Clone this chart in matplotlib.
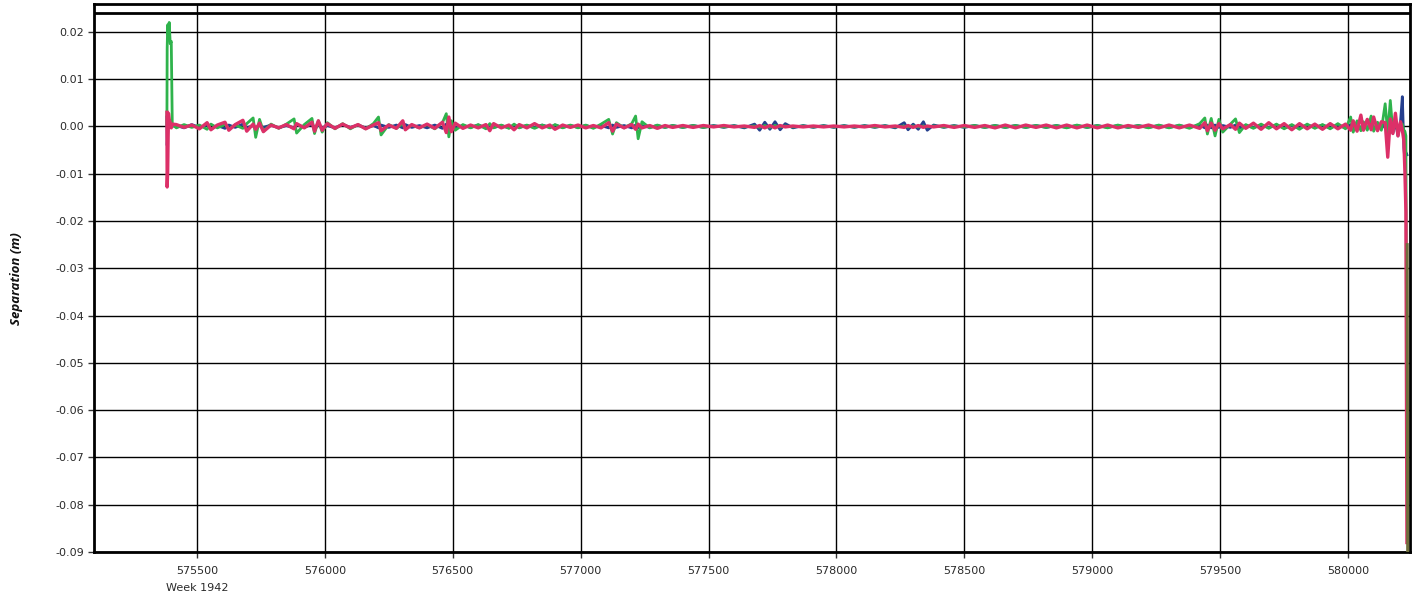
import matplotlib
matplotlib.use("Agg")
import matplotlib.pyplot as plt
import numpy as np

# ---- data (separation in millimetres) ----
t = [575383, 575384, 575386, 575389, 575392, 575396, 575400, 575404,
     575420, 575450, 575480, 575510, 575540, 575555, 575580, 575610, 575625, 575650,
     575680, 575695, 575720, 575730, 575745, 575760, 575790, 575820, 575850, 575880,
     575890, 575920, 575950, 575960, 575975, 575990, 576010, 576040, 576070, 576100,
     576130, 576160, 576190, 576210, 576220, 576250, 576280, 576305, 576315, 576340,
     576370, 576400, 576430, 576460, 576475, 576485, 576495, 576510, 576540, 576570,
     576600, 576630, 576645, 576660, 576690, 576720, 576740, 576760, 576790, 576820,
     576850, 576880, 576900, 576930, 576960, 576990, 577020, 577050, 577080, 577110,
     577125, 577140, 577170, 577200, 577215, 577225, 577240, 577270, 577300, 577330,
     577360, 577400, 577440, 577480, 577520, 577560, 577600, 577640, 577680, 577700,
     577720, 577740, 577760, 577780, 577800, 577830, 577870, 577910, 577950, 577990,
     578030, 578070, 578110, 578150, 578190, 578230, 578265, 578280, 578300, 578320,
     578340, 578355, 578380, 578420, 578460, 578500, 578540, 578580, 578620, 578660,
     578700, 578740, 578780, 578820, 578860, 578900, 578940, 578980, 579020, 579060,
     579100, 579140, 579180, 579220, 579260, 579300, 579340, 579380, 579420, 579440,
     579450, 579465, 579480, 579495, 579510, 579540, 579560, 579575, 579600, 579630,
     579660, 579690, 579720, 579750, 579780, 579810, 579840, 579870, 579900, 579930,
     579960, 579990, 580010, 580020, 580035, 580050, 580060, 580075, 580090, 580100,
     580115, 580130, 580145, 580155, 580165, 580175, 580185, 580195, 580205, 580212,
     580218, 580222, 580226, 580230]

blue_mm = [2.0, -4.0, -1.5, 1.0, 0.3, -0.2, 0.4, 0.1,
           0.2, -0.3, 0.4, -0.2, 0.3, -0.5, 0.2, -0.4, 0.3, -0.2,
           0.5, -0.3, 0.2, -0.4, 0.3, -0.2, 0.3, -0.3, 0.2, -0.3,
           0.4, -0.2, 0.5, -0.4, 0.3, -0.3, 0.2, -0.3, 0.4, -0.2,
           0.3, -0.3, 0.2, -0.3, 0.3, -0.2, 0.3, -0.3, 0.4, -0.2,
           0.2, -0.3, 0.3, -0.4, 0.5, -0.6, 0.4, -0.3, 0.2, -0.2,
           0.3, -0.3, 0.3, -0.2, 0.2, -0.3, 0.3, -0.2, 0.2, -0.2,
           0.3, -0.2, 0.3, -0.2, 0.2, -0.2, 0.2, -0.2, 0.2, -0.3,
           0.3, -0.2, 0.2, -0.3, 0.3, -0.3, 0.2, -0.2, 0.2, -0.2,
           0.2, -0.2, 0.2, -0.2, 0.2, -0.2, 0.2, -0.3, 0.5, -0.8,
           0.9, -0.6, 1.0, -0.7, 0.6, -0.3, 0.2, -0.2, 0.2, -0.2,
           0.2, -0.2, 0.2, -0.2, 0.2, -0.3, 0.8, -0.7, 0.5, -0.6,
           1.0, -0.8, 0.3, -0.2, 0.2, -0.2, 0.2, -0.2, 0.2, -0.2,
           0.2, -0.2, 0.2, -0.2, 0.2, -0.2, 0.2, -0.2, 0.2, -0.2,
           0.2, -0.2, 0.2, -0.2, 0.2, -0.2, 0.2, -0.2, 0.3, -0.3,
           0.3, -0.3, 0.3, -0.2, 0.2, -0.2, 0.3, -0.3, 0.2, -0.2,
           0.2, -0.2, 0.3, -0.3, 0.2, -0.3, 0.3, -0.2, 0.3, -0.3,
           0.3, -0.3, 0.4, -0.5, 0.5, -0.4, 0.5, -0.5, 0.6, -0.6,
           0.5, -0.5, 0.7, -1.2, 0.8, -1.4, 1.0, -2.0, 1.0, 6.3,
           -4.5, -7.0, -5.5, -6.0]

green_mm = [0.5, 16.5, 21.5, 19.0, 22.0, 17.5, 18.0, 0.4,
            -0.3, 0.4, -0.2, 0.3, -0.6, 0.5, -0.3, 0.4, -0.5, 0.3,
            -0.4, 0.6, 1.8, -2.3, 1.5, -1.0, 0.5, -0.4, 0.5, 1.6,
            -1.4, 0.4, 1.7, -1.5, 1.2, -1.2, 0.8, -0.5, 0.6, -0.5,
            0.4, -0.5, 0.6, 2.0, -1.8, 0.4, -0.4, 0.6, -0.6, 0.3,
            -0.3, 0.4, -0.5, 0.8, 2.7, -2.2, 1.2, -0.8, 0.4, -0.3,
            0.4, -0.5, 0.6, -0.3, 0.3, -0.4, 0.5, -0.3, 0.3, -0.4,
            0.3, -0.3, 0.4, -0.3, 0.3, -0.3, 0.3, -0.4, 0.5, 1.5,
            -1.6, 0.8, -0.3, 0.6, 2.2, -2.6, 1.0, -0.3, 0.3, -0.2,
            0.2, -0.2, 0.2, -0.2, 0.1, -0.1, 0.1, -0.1, 0.1, -0.2,
            0.2, -0.2, 0.2, -0.1, 0.1, -0.1, 0.1, -0.1, 0.1, -0.1,
            0.1, -0.1, 0.1, -0.1, 0.1, -0.1, 0.1, -0.1, 0.1, -0.1,
            0.1, -0.1, 0.1, -0.1, 0.1, -0.1, 0.2, -0.2, 0.2, -0.2,
            0.2, -0.2, 0.2, -0.2, 0.2, -0.3, 0.3, -0.2, 0.2, -0.3,
            0.3, -0.2, 0.2, -0.3, 0.3, -0.3, 0.3, -0.4, 0.6, 1.8,
            -1.6, 1.7, -2.0, 1.5, -1.2, 0.5, 1.6, -1.3, 0.4, -0.4,
            0.5, -0.4, 0.5, -0.5, 0.4, -0.6, 0.5, -0.4, 0.4, -0.5,
            0.6, -0.5, 2.0, -1.2, 1.2, -0.9, 1.0, -0.8, 2.2, -1.0,
            0.9, -0.8, 4.8, -1.5, 5.5, -1.2, 1.0, -0.9, 0.6, 0.5,
            -0.8, -1.0, -2.0, -70.0]

pink_mm = [3.0, -12.8, -9.5, 2.8, 1.5, 0.8, -0.3, 0.5,
           0.4, -0.2, 0.3, -0.5, 0.8, -0.7, 0.3, 0.9, -0.8, 0.4,
           1.3, -1.0, 0.5, -0.6, 0.7, -1.1, 0.3, -0.3, 0.4, -0.5,
           0.6, -0.3, 0.9, -1.0, 1.2, -0.8, 0.6, -0.4, 0.5, -0.3,
           0.4, -0.5, 0.3, 0.8, -0.9, 0.3, -0.4, 1.2, -0.7, 0.4,
           -0.3, 0.5, -0.4, 0.9, -1.3, 2.0, -1.1, 0.7, -0.4, 0.3,
           -0.3, 0.4, -0.9, 0.6, -0.3, 0.3, -0.7, 0.4, -0.3, 0.6,
           -0.3, 0.3, -0.6, 0.3, -0.2, 0.3, -0.3, 0.2, -0.3, 0.8,
           -1.0, 0.5, -0.3, 0.4, -0.6, 0.5, -0.3, 0.2, -0.4, 0.2,
           -0.2, 0.2, -0.2, 0.2, -0.1, 0.2, -0.1, 0.1, -0.2, 0.2,
           -0.3, 0.2, -0.3, 0.2, -0.1, 0.1, -0.1, 0.1, -0.1, 0.1,
           -0.1, 0.1, -0.1, 0.2, -0.1, 0.1, -0.2, 0.2, -0.2, 0.2,
           -0.2, 0.1, -0.1, 0.2, -0.2, 0.2, -0.2, 0.2, -0.3, 0.3,
           -0.3, 0.3, -0.2, 0.3, -0.3, 0.3, -0.3, 0.3, -0.3, 0.3,
           -0.3, 0.2, -0.2, 0.3, -0.3, 0.3, -0.3, 0.3, -0.4, 0.8,
           -0.9, 0.7, -0.8, 0.6, -0.5, 0.4, -0.6, 0.7, -0.4, 0.7,
           -0.6, 0.8, -0.5, 0.6, -0.7, 0.6, -0.5, 0.5, -0.6, 0.6,
           -0.5, 0.5, -0.8, 1.2, -1.0, 2.4, -0.8, 1.5, -0.7, 2.0,
           -0.9, 1.0, 0.8, -6.5, 1.6, -1.5, 2.8, -2.0, 1.0, -0.8,
           -3.0, -9.5, -18.0, -88.0]

olive_t = [580231, 580233]
olive_mm = [-25.0, -90.0]

x_ticks = [575500, 576000, 576500, 577000, 577500, 578000, 578500, 579000, 579500, 580000]
y_ticks = [0.02, 0.01, 0.00, -0.01, -0.02, -0.03, -0.04, -0.05, -0.06, -0.07, -0.08, -0.09]
week_label = "Week 1942"
y_title = "Separation (m)"

# ---- figure ----
fig = plt.figure(figsize=(14.15, 5.98), dpi=100)
ax = fig.add_axes([94 / 1415, 46 / 598, (1410 - 94) / 1415, (552 - 4) / 598])

tt = np.array(t, dtype=float)
ax.plot(tt, np.array(blue_mm) / 1000, color="#253f8e", lw=2.0, zorder=3)
ax.plot(tt, np.array(green_mm) / 1000, color="#2fb34c", lw=2.0, zorder=4)
ax.plot(tt, np.array(pink_mm) / 1000, color="#dc3068", lw=2.4, zorder=5)
ax.plot(np.array(olive_t, dtype=float), np.array(olive_mm) / 1000, color="#6e6e3c", lw=2.2, zorder=6)

ax.set_xlim(575098, 580242)
ax.set_ylim(-0.09, 0.0259)
ax.axhline(0.024, color="black", lw=2.0, zorder=7)

ax.set_xticks(x_ticks)
ax.set_xticklabels([str(v) for v in x_ticks])
ax.set_yticks(y_ticks)
ax.set_yticklabels(["%.2f" % v for v in y_ticks])
ax.grid(True, color="black", lw=1.0, zorder=1)
ax.set_axisbelow(True)

for sp in ax.spines.values():
    sp.set_linewidth(2.0)
    sp.set_color("black")

ax.tick_params(axis="both", direction="out", length=4, width=1, labelsize=8,
               colors="#333333", labelcolor="#2a2a2a")
ax.tick_params(axis="x", pad=6)
ax.tick_params(axis="y", pad=3)

ax.text(x_ticks[0], -0.057, week_label, transform=ax.get_xaxis_transform(),
        ha="center", va="top", fontsize=8, color="#2a2a2a")

fig.text(17 / 1415, 0.535, y_title, rotation=90, ha="center", va="center",
         fontsize=9.5, fontweight="bold", fontstyle="italic", color="#111111",
         family="Open Sans")

fig.savefig("out.png", dpi=100, facecolor="white")
